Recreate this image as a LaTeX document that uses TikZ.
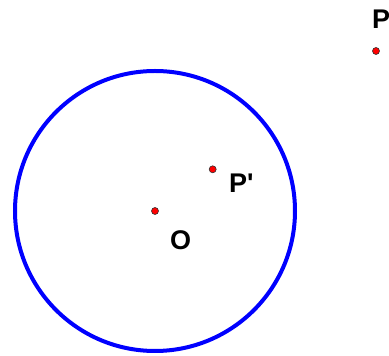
\documentclass[tikz,border=0pt]{standalone}
\usepackage{fontspec}
\setmainfont{Liberation Sans}
\tikzset{
  pt/.style={circle,fill=red,draw=black!80,line width=0.6pt,inner sep=0pt,minimum size=7pt},
  lbl/.style={font=\bfseries\fontsize{27}{27}\selectfont,inner sep=0pt,anchor=base west},
}
\begin{document}
\begin{tikzpicture}[x=1pt,y=1pt]
\useasboundingbox (0,0) rectangle (389,356);
\fill[white] (0,0) rectangle (389,356);
\coordinate (c) at (155,145);
\draw[blue,line width=4pt] (c) circle[radius=140];
\node[pt] (O) at (c) {};
\node[pt] (Pp) at (212.7,186.7) {};
\node[pt] (P) at (376,305) {};
\node[lbl] (lO) at (170,106) {O};
\node[lbl] (lPp) at (229,163) {P\textquotesingle};
\node[lbl] (lP) at (372,327) {P};
\end{tikzpicture}
\end{document}
